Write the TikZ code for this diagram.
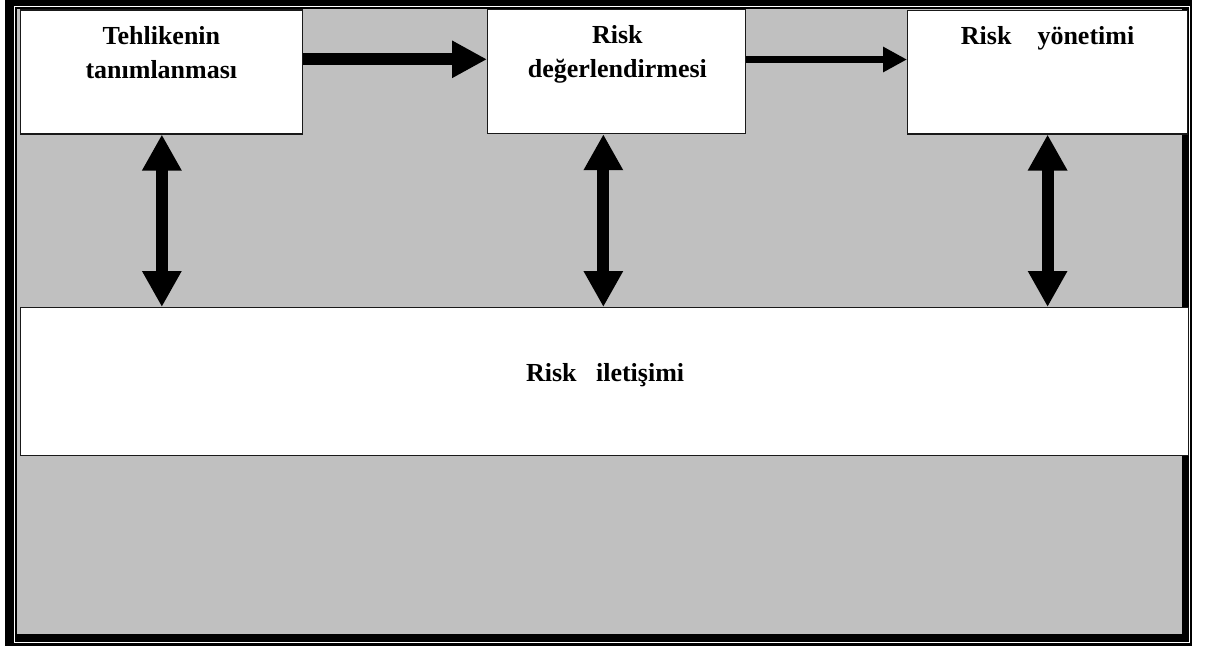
\documentclass[tikz,border=0pt]{standalone}
\usepackage{fontspec}
\setmainfont{Liberation Serif}
\usetikzlibrary{arrows.meta}
\definecolor{panelgray}{RGB}{192,192,192}
\begin{document}
\begin{tikzpicture}[x=1pt,y=-1pt,
  box/.style={draw=black!90, line width=1.2pt, fill=white, inner sep=0pt, anchor=north west},
  lbl/.style={font=\bfseries\fontsize{26}{34}\selectfont, align=center, inner sep=0pt},
  bigflow/.style={line width=12pt, -{Triangle[length=35pt,width=35pt]}},
  smallflow/.style={line width=7pt, -{Triangle[length=24pt,width=24pt]}},
  twoway/.style={line width=12pt, {Triangle[length=36pt,width=37pt]}-{Triangle[length=36pt,width=37pt]}}]
\useasboundingbox (0,0) rectangle (1205,649);
% page and double frame
\fill[white] (0,0) rectangle (1205,649);
\fill[black] (4.5,0) rectangle (1192,645.5);
\draw[white, line width=1.3pt] (14.5,6.5) rectangle (1189.5,642.8);
\fill[panelgray] (16.7,8.5) rectangle (1182,633.5);

% process boxes
\node[box, minimum width=281.5pt, minimum height=124pt] (b1) at (20,9.3) {};
\node[box, minimum width=257.5pt, minimum height=124pt] (b2) at (487,9) {};
\node[box, minimum width=280pt, minimum height=123.3pt] (b3) at (907,10) {};
\node[box, minimum width=1168pt, minimum height=148pt] (b4) at (20,307) {};

% labels
\node[lbl, anchor=north] (t1) at ([yshift=-16.5pt]b1.north) {Tehlikenin\\tanımlanması};
\node[lbl, anchor=north] (t2) at ([yshift=-16.5pt,xshift=1pt]b2.north) {Risk\\değerlendirmesi};
\node[lbl, anchor=base] (t3) at ([yshift=-34pt]b3.north) {Risk\ \ \ \ yönetimi};
\node[lbl, anchor=base] (t4) at ([yshift=-74pt,xshift=0.5pt]b4.north) {Risk\ \ \ iletişimi};

% flow between the stages
\draw[bigflow] ([yshift=-50pt]b1.north east) -- ([yshift=-50pt]b1.north east -| b2.west);
\draw[smallflow] ([yshift=-50.5pt]b2.north east) -- ([yshift=-50.5pt]b2.north east -| b3.west);

% exchange with risk communication
\draw[twoway] ([xshift=0.5pt]b1.south) -- ([xshift=0.5pt]b1.south |- b4.north);
\draw[twoway] ([xshift=-13pt]b2.south) -- ([xshift=-13pt]b2.south |- b4.north);
\draw[twoway] (b3.south) -- (b3.south |- b4.north);
\end{tikzpicture}
\end{document}
